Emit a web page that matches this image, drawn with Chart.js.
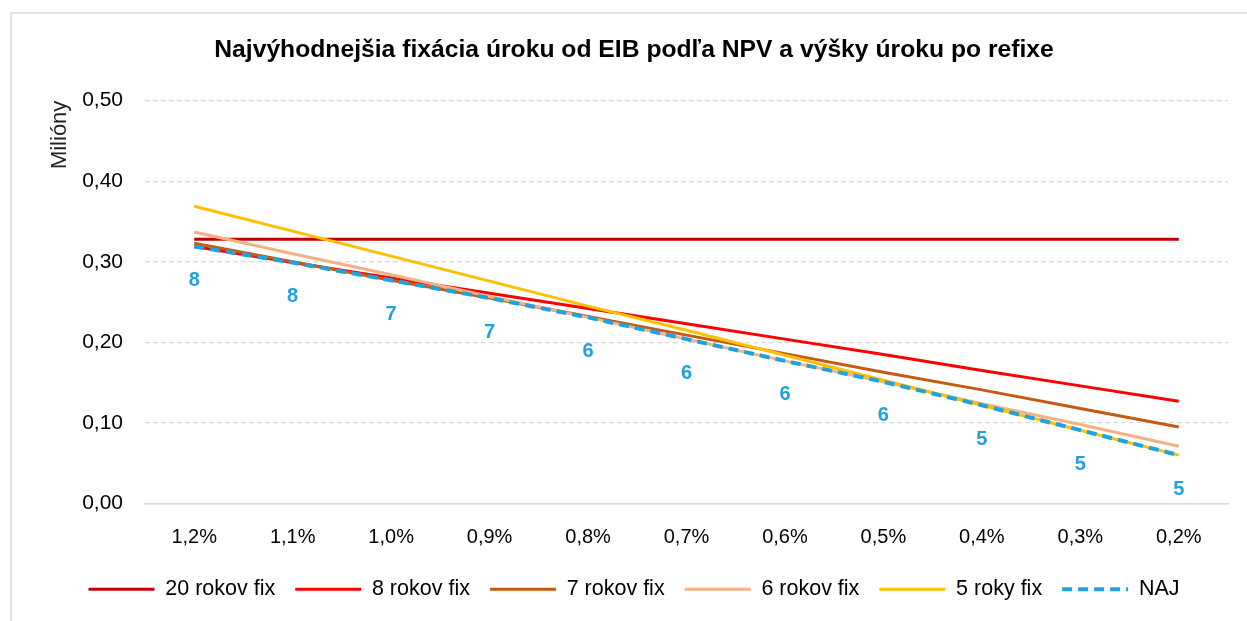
<!DOCTYPE html>
<html>
<head>
<meta charset="utf-8">
<script src="https://cdn.jsdelivr.net/npm/chart.js@4/dist/chart.umd.min.js"></script>
<style>
  html, body { margin: 0; padding: 0; background: #fff; }
  #wrap { width: 1247px; height: 621px; position: relative; }
</style>
</head>
<body>
<div id="wrap"><canvas id="myChart"></canvas></div>
<script>
// hodnoty odčítané z grafu (milióny)
const urokyPoRefixe = ['1,2%', '1,1%', '1,0%', '0,9%', '0,8%', '0,7%', '0,6%', '0,5%', '0,4%', '0,3%', '0,2%'];
const fix20 = [0.328, 0.328, 0.328, 0.328, 0.328, 0.328, 0.328, 0.328, 0.328, 0.328, 0.328];
const fix8 = [0.319, 0.299, 0.280, 0.261, 0.242, 0.223, 0.204, 0.185, 0.165, 0.146, 0.127];
const fix7 = [0.323, 0.300, 0.277, 0.255, 0.232, 0.209, 0.186, 0.163, 0.141, 0.118, 0.095];
const fix6 = [0.337, 0.310, 0.284, 0.257, 0.231, 0.204, 0.177, 0.151, 0.124, 0.098, 0.071];
const fix5 = [0.369, 0.338, 0.307, 0.276, 0.245, 0.215, 0.184, 0.153, 0.122, 0.091, 0.060];
const naj = [0.319, 0.299, 0.277, 0.255, 0.231, 0.204, 0.177, 0.151, 0.122, 0.091, 0.060];
const najRoky = [8, 8, 7, 7, 6, 6, 6, 6, 5, 5, 5];
const yTicks = [0, 0.1, 0.2, 0.3, 0.4, 0.5];

const FONT = "'Liberation Sans', Arial, sans-serif";
const MODRA = '#1fa2de';

// ramik okolo grafu (len lavy a horny okraj je vidno)
const ramik = {
  id: 'ramik',
  beforeDraw(chart) {
    const c = chart.ctx;
    c.save();
    c.strokeStyle = '#d9d9d9';
    c.lineWidth = 1.5;
    c.beginPath();
    c.moveTo(11, chart.height);
    c.lineTo(11, 13);
    c.lineTo(chart.width, 13);
    c.stroke();
    c.restore();
  }
};

// cisla rokov pod ciarou NAJ
const popisky = {
  id: 'popisky',
  afterDatasetsDraw(chart) {
    const meta = chart.getDatasetMeta(5);
    const c = chart.ctx;
    c.save();
    c.font = 'bold 20px ' + FONT;
    c.fillStyle = MODRA;
    c.textAlign = 'center';
    c.textBaseline = 'middle';
    meta.data.forEach((p, i) => {
      c.fillText(String(najRoky[i]), p.x, p.y + 34);
    });
    c.restore();
  }
};

function seria(label, data, color, order, extra) {
  return Object.assign({
    label: label,
    data: data,
    borderColor: color,
    backgroundColor: color,
    borderWidth: 3,
    pointRadius: 0,
    pointHoverRadius: 0,
    tension: 0,
    order: order
  }, extra || {});
}

const ctx = document.getElementById('myChart');
const myChart = new Chart(ctx, {
  type: 'line',
  data: {
    labels: urokyPoRefixe,
    datasets: [
      seria('20 rokov fix', fix20, '#c00000', 6),
      seria('8 rokov fix', fix8, '#ff0000', 5),
      seria('7 rokov fix', fix7, '#c55a11', 4),
      seria('6 rokov fix', fix6, '#f4b183', 3),
      seria('5 roky fix', fix5, '#ffc000', 2),
      seria('NAJ', naj, MODRA, 1, { borderDash: [10, 6], borderWidth: 4 })
    ]
  },
  options: {
    responsive: true,
    maintainAspectRatio: false,
    animation: false,
    layout: { padding: { left: 40, right: 19, top: 10, bottom: 11 } },
    plugins: {
      title: {
        display: true,
        text: 'Najvýhodnejšia fixácia úroku od EIB podľa NPV a výšky úroku po refixe',
        color: '#000',
        font: { family: FONT, size: 24.7, weight: 'bold' },
        padding: { top: 25, bottom: 36 }
      },
      legend: {
        position: 'bottom',
        labels: {
          sort: (a, b) => a.datasetIndex - b.datasetIndex,
          usePointStyle: true,
          pointStyle: 'line',
          pointStyleWidth: 66,
          boxHeight: 4,
          padding: 20,
          color: '#000',
          font: { family: FONT, size: 21.5 },
          generateLabels(chart) {
            const items = Chart.defaults.plugins.legend.labels.generateLabels(chart);
            items.forEach(it => {
              const ds = chart.data.datasets[it.datasetIndex];
              it.lineWidth = ds.borderDash ? 4 : 3;
              it.lineDash = ds.borderDash || [];
              it.strokeStyle = ds.borderColor;
            });
            return items;
          }
        }
      },
      tooltip: { enabled: false }
    },
    scales: {
      x: {
        offset: true,
        grid: { display: false, drawTicks: false },
        border: { display: true, color: '#d9d9d9', width: 1.5 },
        ticks: { color: '#000', padding: 22, font: { family: FONT, size: 20 } },
        afterFit(s) { s.height = 55; }
      },
      y: {
        min: 0,
        max: 0.5,
        afterBuildTicks(s) { s.ticks = yTicks.map(v => ({ value: v })); },
        afterFit(s) { s.width = 105; },
        grid: { color: '#d9d9d9', lineWidth: 1.2, drawTicks: false },
        border: { display: false, dash: [5, 3] },
        ticks: {
          color: '#000',
          padding: 22,
          font: { family: FONT, size: 21 },
          callback: v => v.toFixed(2).replace('.', ',')
        },
        title: {
          display: true,
          text: 'Milióny',
          align: 'end',
          color: '#222',
          font: { family: FONT, size: 22 },
          padding: { top: 7, bottom: 0 }
        }
      }
    }
  },
  plugins: [ramik, popisky]
});
</script>
</body>
</html>
